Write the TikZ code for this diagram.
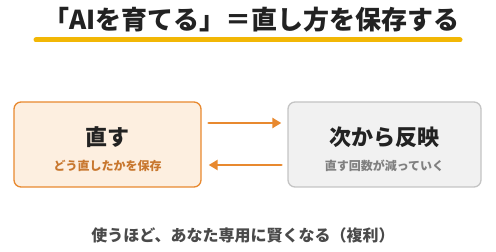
\documentclass[tikz,border=0pt]{standalone}
\usepackage{fontspec}
\newfontfamily\jp{Noto Sans CJK JP}
\newfontfamily\jpblk{Noto Sans CJK JP Black}
\usetikzlibrary{arrows.meta,positioning}
\definecolor{ttl}{HTML}{222222}
\definecolor{gold}{HTML}{F2B705}
\definecolor{orng}{HTML}{E8892F}
\definecolor{orfill}{HTML}{FDEFE0}
\definecolor{orsub}{HTML}{C8772E}
\definecolor{gyfill}{HTML}{F1F1F1}
\definecolor{gyline}{HTML}{C4C4C4}
\definecolor{gysub}{HTML}{808080}
\definecolor{note}{HTML}{4A4A4A}
\begin{document}
\begin{tikzpicture}[x=1pt, y=1pt, font=\jp, line join=round, line cap=round,
    card/.style={rounded corners=7pt, line width=1.3pt, minimum width=190pt, minimum height=85pt},
    head/.style={font=\jp\bfseries\fontsize{22}{22}\selectfont, text=ttl},
    sub/.style={font=\jp\bfseries\fontsize{12}{12}\selectfont},
    flow/.style={orng, line width=2.8pt, -{Triangle[length=9pt,width=10pt]}}]
	\useasboundingbox (0,0) rectangle (496,252);
	\node[font=\jpblk\fontsize{26}{26}\selectfont, text=ttl] (title) at (251.5,232) {「AIを育てる」＝直し方を保存する};
	\coordinate (ul) at (36,212);
	\coordinate (ur) at (460,212);
	\draw[gold, line width=5pt] (ul)--(ur);
	\node[card, draw=orng, fill=orfill, minimum width=187pt] (fix) at (107.5,107.5) {};
	\node[card, draw=gyline, fill=gyfill, minimum width=193pt] (next) at (384.5,107.5) {};
	\node[head] (fixh) at (107.5,115) {直す};
	\node[sub, text=orsub] (fixs) at (107.5,86) {どう直したかを保存};
	\node[head] (nexth) at (384.5,115) {次から反映};
	\node[sub, text=gysub] (nexts) at (384.5,86) {直す回数が減っていく};
	\draw[flow, shorten <=7pt, shorten >=6pt] ([yshift=21.5pt]fix.east)--([yshift=21.5pt]next.west);
	\draw[flow, shorten <=6pt, shorten >=7pt] ([yshift=-20.5pt]next.west)--([yshift=-20.5pt]fix.east);
	\node[font=\jp\bfseries\fontsize{16}{16}\selectfont, text=note] (gain) at (243,17) {使うほど、あなた専用に賢くなる（複利）};
\end{tikzpicture}
\end{document}
